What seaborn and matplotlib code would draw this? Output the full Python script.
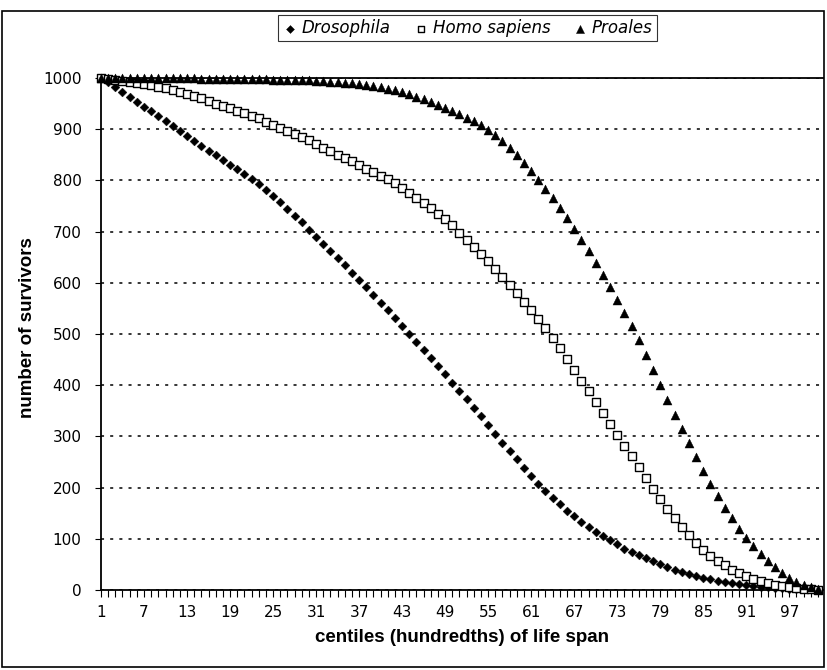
import pandas as pd
import matplotlib
matplotlib.use("Agg")
import matplotlib.pyplot as plt
import seaborn as sns
from matplotlib.ticker import MultipleLocator, FixedLocator
from matplotlib.patches import Rectangle

# -------------------------------
# Data
# -------------------------------

centiles = list(range(1, 102))
x_tick_labels = [1, 7, 13, 19, 25, 31, 37, 43, 49, 55, 61, 67, 73, 79, 85, 91, 97]
y_ticks = [0, 100, 200, 300, 400, 500, 600, 700, 800, 900, 1000]

drosophila = [
    1000, 992, 983, 973, 963, 953, 944, 935, 925, 916,
    906, 896, 886, 876, 867, 858, 849, 840, 831, 822,
    812, 803, 792, 781, 769, 757, 744, 731, 718, 704,
    690, 676, 662, 648, 634, 620, 606, 591, 576, 561,
    546, 531, 516, 500, 485, 469, 453, 437, 421, 405,
    389, 373, 356, 339, 322, 305, 288, 271, 255, 239,
    223, 208, 194, 180, 167, 155, 144, 133, 123, 114,
    105, 97, 89, 81, 74, 68, 62, 56, 50, 45,
    40, 36, 32, 28, 24, 21, 18, 15, 13, 11,
    9, 7, 6, 5, 4, 3, 2, 2, 1, 1,
    0,
]

homo_sapiens = [
    1000, 999, 997, 995, 993, 991, 989, 986, 983, 980,
    977, 973, 969, 964, 960, 955, 950, 946, 941, 936,
    931, 926, 921, 915, 909, 903, 897, 891, 884, 878,
    871, 864, 857, 850, 843, 837, 830, 823, 816, 809,
    802, 794, 785, 776, 766, 756, 746, 735, 724, 712,
    698, 684, 670, 656, 642, 627, 612, 596, 580, 563,
    546, 529, 511, 492, 472, 451, 430, 409, 388, 367,
    346, 325, 303, 282, 261, 240, 219, 198, 178, 159,
    141, 124, 107, 92, 79, 67, 57, 48, 40, 33,
    27, 22, 17, 13, 10, 7, 5, 3, 2, 1,
    0,
]

proales = [
    1000, 1000, 1000, 1000, 1000, 1000, 1000, 1000, 1000, 1000,
    1000, 1000, 1000, 1000, 999, 999, 999, 999, 999, 999,
    998, 998, 998, 998, 997, 997, 997, 996, 996, 996,
    995, 994, 993, 992, 991, 990, 989, 987, 985, 982,
    979, 976, 972, 968, 963, 958, 953, 947, 941, 935,
    929, 922, 916, 908, 899, 888, 876, 863, 849, 834,
    818, 801, 783, 765, 746, 726, 705, 684, 662, 639,
    616, 592, 567, 541, 515, 488, 459, 430, 400, 371,
    342, 314, 287, 260, 233, 207, 183, 161, 140, 119,
    101, 85, 70, 56, 44, 33, 24, 16, 9, 5,
    2,
]

df = pd.DataFrame({
    "centile": centiles,
    "Drosophila": drosophila,
    "Homo sapiens": homo_sapiens,
    "Proales": proales,
})

# -------------------------------
# Figure
# -------------------------------

sns.set_style("white")
plt.rcParams["font.family"] = ["DejaVu Sans"]
plt.rcParams["text.color"] = "black"
plt.rcParams["axes.labelcolor"] = "black"
plt.rcParams["xtick.color"] = "black"
plt.rcParams["ytick.color"] = "black"

fig = plt.figure(figsize=(8.27, 6.70), dpi=100)
ax = fig.add_axes([0.1221, 0.1194, 0.873, 0.7642])

sns.scatterplot(data=df, x="centile", y="Drosophila", marker="D", s=20,
                color="black", edgecolor="black", linewidth=0.3,
                label="Drosophila", ax=ax, zorder=3, clip_on=False)
sns.scatterplot(data=df, x="centile", y="Homo sapiens", marker="s", s=26,
                color="white", edgecolor="black", linewidth=1.0,
                label="Homo sapiens", ax=ax, zorder=4, clip_on=False)
sns.scatterplot(data=df, x="centile", y="Proales", marker="^", s=42,
                color="black", edgecolor="black", linewidth=0.3,
                label="Proales", ax=ax, zorder=5, clip_on=False)

# axes limits and ticks
ax.set_xlim(1, 101.7)
ax.set_ylim(0, 1000)
ax.xaxis.set_major_locator(FixedLocator(x_tick_labels))
ax.xaxis.set_minor_locator(MultipleLocator(1))
ax.set_yticks(y_ticks)

ax.tick_params(axis="x", which="both", direction="out", length=5, width=0.8,
               color="black", labelcolor="black", labelsize=11, pad=6, bottom=True)
ax.tick_params(axis="y", which="major", direction="out", length=4, width=0.8,
               color="black", labelcolor="black", labelsize=11, pad=10, left=True)

# dotted horizontal gridlines
ax.grid(axis="y", color="black", linestyle=(0, (2, 4)), linewidth=1.1)
ax.grid(axis="x", visible=False)

for side in ["left", "bottom", "top"]:
    ax.spines[side].set_color("black")
    ax.spines[side].set_linewidth(1.3)
ax.spines["right"].set_visible(False)

label_font = ["Liberation Sans", "DejaVu Sans"]
ax.set_xlabel("centiles (hundredths) of life span", fontsize=13.5,
              fontweight="bold", family=label_font, color="black", labelpad=6)
ax.set_ylabel("number of survivors", fontsize=13.5,
              fontweight="bold", family=label_font, color="black")
ax.yaxis.set_label_coords(-0.090, 0.513)

# legend at the top of the figure
handles, labels = ax.get_legend_handles_labels()
ax.get_legend().remove()
leg = fig.legend(handles, labels, loc="center", bbox_to_anchor=(0.565, 0.958),
                 ncol=3, frameon=True, fancybox=False, edgecolor="black",
                 prop={"style": "italic", "size": 12},
                 handletextpad=0.2, columnspacing=1.3, handlelength=1.0,
                 borderpad=0.25, markerscale=0.9)
leg.get_frame().set_linewidth(0.8)
for t in leg.get_texts():
    t.set_color("black")

# border around the whole picture
fig.patches.append(Rectangle((0.003, 0.004), 0.993, 0.98,
                             transform=fig.transFigure, fill=False,
                             edgecolor="black", linewidth=1.2))

fig.savefig("out.png", dpi=100)
